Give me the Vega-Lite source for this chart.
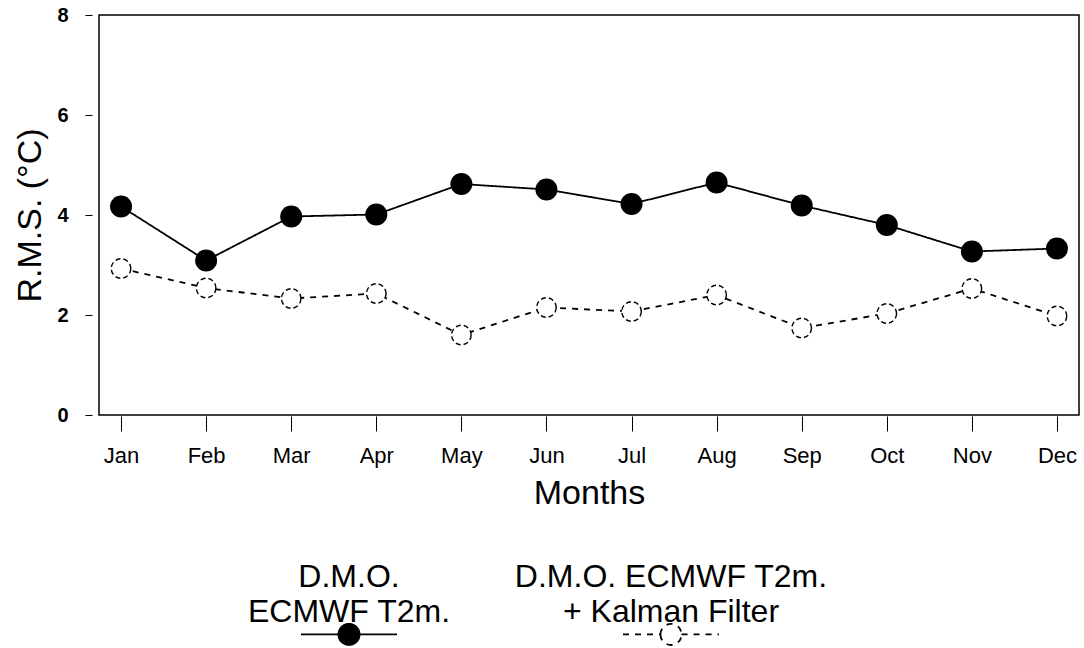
{
  "$schema": "https://vega.github.io/schema/vega-lite/v6.json",
  "width": 980,
  "height": 400,
  "padding": {"left": 13, "top": 5, "right": 4, "bottom": 0},
  "background": "white",
  "config": {
    "font": "Liberation Sans",
    "view": {"stroke": "black", "strokeWidth": 1.5},
    "axis": {"grid": false, "domain": false, "tickColor": "black", "labelColor": "black", "titleColor": "black", "titleFontWeight": "normal"}
  },
  "data": {
    "values": [
      {"month": "Jan", "series": "DMO", "value": 4.17},
      {"month": "Feb", "series": "DMO", "value": 3.09},
      {"month": "Mar", "series": "DMO", "value": 3.97},
      {"month": "Apr", "series": "DMO", "value": 4.01},
      {"month": "May", "series": "DMO", "value": 4.62},
      {"month": "Jun", "series": "DMO", "value": 4.51},
      {"month": "Jul", "series": "DMO", "value": 4.22},
      {"month": "Aug", "series": "DMO", "value": 4.65},
      {"month": "Sep", "series": "DMO", "value": 4.19},
      {"month": "Oct", "series": "DMO", "value": 3.8},
      {"month": "Nov", "series": "DMO", "value": 3.27},
      {"month": "Dec", "series": "DMO", "value": 3.33},
      {"month": "Jan", "series": "DMO+KF", "value": 2.93},
      {"month": "Feb", "series": "DMO+KF", "value": 2.54},
      {"month": "Mar", "series": "DMO+KF", "value": 2.33},
      {"month": "Apr", "series": "DMO+KF", "value": 2.43},
      {"month": "May", "series": "DMO+KF", "value": 1.6},
      {"month": "Jun", "series": "DMO+KF", "value": 2.15},
      {"month": "Jul", "series": "DMO+KF", "value": 2.07},
      {"month": "Aug", "series": "DMO+KF", "value": 2.4},
      {"month": "Sep", "series": "DMO+KF", "value": 1.74},
      {"month": "Oct", "series": "DMO+KF", "value": 2.03},
      {"month": "Nov", "series": "DMO+KF", "value": 2.53},
      {"month": "Dec", "series": "DMO+KF", "value": 1.98}
    ]
  },
  "encoding": {
    "x": {
      "field": "month", "type": "ordinal",
      "sort": ["Jan","Feb","Mar","Apr","May","Jun","Jul","Aug","Sep","Oct","Nov","Dec"],
      "scale": {"type": "point", "padding": 0.259},
      "axis": {"title": "Months", "titleFontSize": 34, "titlePadding": 10, "labelFontSize": 22, "labelAngle": 0, "labelPadding": 14, "tickSize": 15, "offset": 1}
    },
    "y": {
      "field": "value", "type": "quantitative",
      "scale": {"domain": [0, 8], "nice": false, "zero": true},
      "axis": {"title": "R.M.S. (°C)", "titleFontSize": 34, "titlePadding": 9, "values": [0, 2, 4, 6, 8], "labelFontSize": 20, "labelFontWeight": "bold", "labelPadding": 17, "tickSize": 7, "offset": 7}
    }
  },
  "layer": [
    {
      "mark": {"type": "line", "color": "black", "strokeWidth": 1.8},
      "encoding": {
        "strokeDash": {
          "field": "series", "type": "nominal",
          "scale": {"domain": ["DMO", "DMO+KF"], "range": [[1, 0], [6, 6]]},
          "legend": {
            "orient": "none", "legendX": 201, "legendY": 570, "direction": "horizontal", "title": null,
            "symbolType": "M-1,0H-0.22M0.22,0H1M-0.22,0A0.22,0.22 0 1,0 0.22,0A0.22,0.22 0 1,0 -0.22,0",
            "symbolSize": 9216, "symbolStrokeWidth": 1.8, "symbolStrokeColor": "black",
            "labelExpr": "datum.value == 'DMO' ? ['D.M.O.', 'ECMWF T2m.'] : ['D.M.O. ECMWF T2m.', '+ Kalman Filter']",
            "labelAlign": "center", "labelBaseline": "bottom", "labelOffset": -49, "labelFontSize": 32, "labelColor": "black", "labelLimit": 0,
            "columnPadding": 63,
            "encode": {
              "labels": {"update": {"lineHeight": {"value": 35}, "dy": {"value": -40}}},
              "symbols": {"update": {
                "fill": {"signal": "datum.value === 'DMO' ? 'black' : 'white'"},
                "fillOpacity": {"value": 1},
                "stroke": {"value": "black"},
                "strokeWidth": {"value": 1.8},
                "strokeOpacity": {"value": 1},
                "opacity": {"value": 1}
              }}
            }
          }
        }
      }
    },
    {
      "transform": [{"filter": "datum.series == 'DMO'"}],
      "mark": {"type": "point", "shape": "circle", "filled": true, "color": "black", "size": 484, "opacity": 1}
    },
    {
      "transform": [{"filter": "datum.series == 'DMO+KF'"}],
      "mark": {"type": "point", "shape": "circle", "filled": false, "fill": "white", "fillOpacity": 1, "stroke": "black", "strokeWidth": 1.4, "strokeDash": [5, 3], "size": 380, "opacity": 1}
    }
  ]
}
